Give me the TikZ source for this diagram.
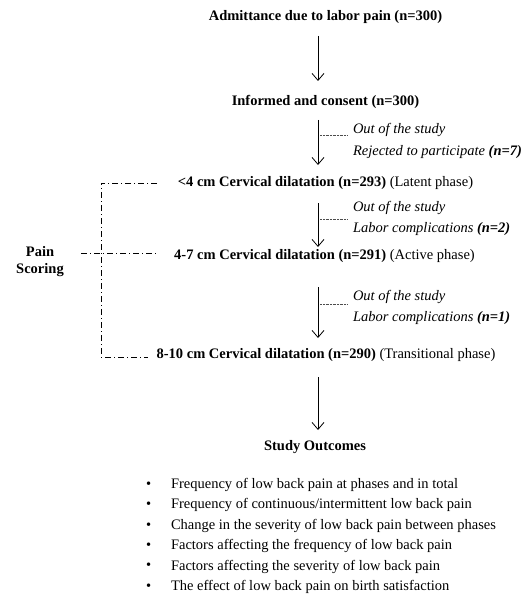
\documentclass[tikz,border=0pt]{standalone}
\usepackage{fontspec}
\setmainfont{Liberation Serif}
\usetikzlibrary{arrows.meta}
\begin{document}
\begin{tikzpicture}[x=1pt,y=-1pt,
  every node/.style={inner sep=0pt,outer sep=0pt},
  main/.style={font=\fontsize{14.5}{17}\selectfont\bfseries},
  side/.style={font=\fontsize{14.5}{17}\selectfont\itshape,anchor=west},
  item/.style={font=\fontsize{14.5}{17}\selectfont,anchor=west},
  flow/.style={line width=0.8pt,-{Straight Barb[length=7pt,width=12pt,line width=0.8pt]}},
  exitline/.style={dash pattern=on 0.6pt off 0.8pt,line width=0.5pt,black!70},
  bracket/.style={line width=0.5pt,dash pattern=on 6pt off 3pt on 1pt off 3pt}
]
\useasboundingbox (0,0) rectangle (528,596);
% main nodes
\node[main] (admit) at (325.5,17) {Admittance due to labor pain (n=300)};
\node[main] (informed) at (325.5,102) {Informed and consent (n=300)};
\node[main] (lat) at (325.5,183) {<4 cm Cervical dilatation (n=293) \mdseries(Latent phase)};
\node[main] (act) at (324.5,256) {4-7 cm Cervical dilatation (n=291) \mdseries(Active phase)};
\node[main] (trans) at (326,355) {8-10 cm Cervical dilatation (n=290) \mdseries(Transitional phase)};
\node[main] (outc) at (315,447) {Study Outcomes};
% arrows
\coordinate (a1s) at (318,36); \coordinate (a1e) at (318,81);
\coordinate (a2s) at (318,120); \coordinate (a2e) at (318,165);
\coordinate (a3s) at (318,203); \coordinate (a3e) at (318,247);
\coordinate (a4s) at (318,287); \coordinate (a4e) at (318,338);
\coordinate (a5s) at (318,377); \coordinate (a5e) at (318,430);
\draw[flow] (a1s) -- (a1e);
\draw[flow] (a2s) -- (a2e);
\draw[flow] (a3s) -- (a3e);
\draw[flow] (a4s) -- (a4e);
\draw[flow] (a5s) -- (a5e);
% exits
\node[side] (o1) at (353,130) {Out of the study};
\node[side] (r1) at (353,152) {Rejected to participate \textbf{(n=7)}};
\node[side] (o2) at (353,208) {Out of the study};
\node[side] (r2) at (353,229) {Labor complications \textbf{(n=2)}};
\node[side] (o3) at (353,297) {Out of the study};
\node[side] (r3) at (353,318) {Labor complications \textbf{(n=1)}};
\coordinate (d1) at (320,135); \coordinate (d1e) at (347,135);
\coordinate (d2) at (320,219); \coordinate (d2e) at (347,219);
\coordinate (d3) at (320,304); \coordinate (d3e) at (347,304);
\draw[exitline] (d1) -- (d1e);
\draw[exitline] (d2) -- (d2e);
\draw[exitline] (d3) -- (d3e);
% pain scoring bracket
\node[main,align=center] (pain) at (40,262) {Pain\\Scoring};
\coordinate (bt) at (101,183); \coordinate (btr) at (157,183);
\coordinate (bm) at (81,253); \coordinate (bmr) at (157,253);
\coordinate (bb) at (101,357); \coordinate (bbr) at (148,357);
\draw[bracket] (btr) -- (bt) -- (bb) -- (bbr);
\draw[bracket] (bm) -- (bmr);
% outcomes
\foreach \t [count=\i] in {Frequency of low back pain at phases and in total,
  Frequency of continuous/intermittent low back pain,
  Change in the severity of low back pain between phases,
  Factors affecting the frequency of low back pain,
  Factors affecting the severity of low back pain,
  The effect of low back pain on birth satisfaction}{
  \node[item] (b\i) at (146,{485+(\i-1)*20.4}) {\textbullet};
  \node[item] (t\i) at (171,{485+(\i-1)*20.4}) {\t};
}
\end{tikzpicture}
\end{document}
